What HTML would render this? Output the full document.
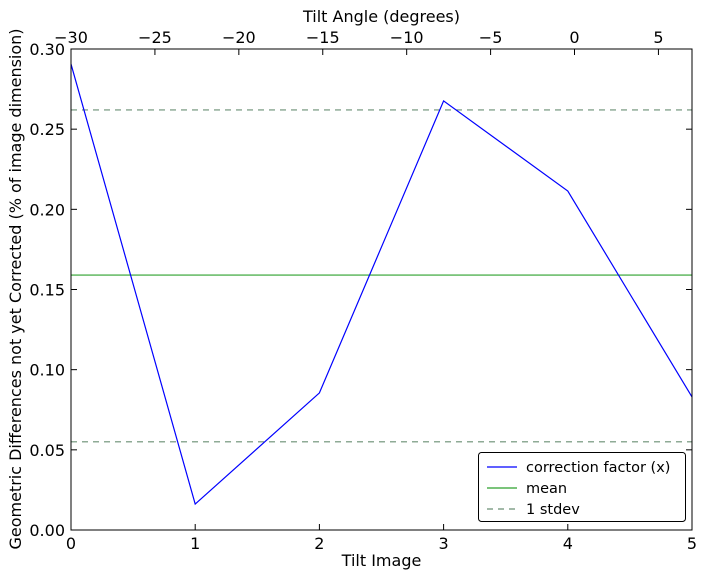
<!DOCTYPE html>
<html><head><meta charset="utf-8"><style>
body{margin:0;background:#fff;}
svg text{font-family:"DejaVu Sans","Liberation Sans",sans-serif;}
</style></head><body>
<svg id="chart" width="706" height="579" viewBox="0 0 706 579">
<g id="plot"></g>
</svg>
<script>
const xCats=[0,1,2,3,4,5];
const correction=[0.2906,0.0162,0.0855,0.2676,0.2114,0.083];
const meanVal=[0.159];
const stdevVals=[0.262,0.055];
const yTicks=[0,0.05,0.10,0.15,0.20,0.25,0.30];
const yTickLabels=["0.00","0.05","0.10","0.15","0.20","0.25","0.30"];
const topTicks=[-30,-25,-20,-15,-10,-5,0,5];
const topTickLabels=["\u221230","\u221225","\u221220","\u221215","\u221210","\u22125","0","5"];

const L=71,R=692,T=49,B=530;
const xs=v=>L+(v-0)/(5-0)*(R-L);
const ys=v=>B-(v/0.30)*(B-T);
const xt=v=>L+(v+30)/37*(R-L);
const NS="http://www.w3.org/2000/svg";
const g=document.getElementById('plot');
function mk(tag,attrs,parent){const e=document.createElementNS(NS,tag);for(const k in attrs)e.setAttribute(k,attrs[k]);(parent||g).appendChild(e);return e;}
function txt(s,attrs){const e=mk('text',attrs);e.textContent=s;return e;}

let e;
stdevVals.forEach((v,i)=>{
 e=mk('line',{x1:L,x2:R,y1:ys(v),y2:ys(v),stroke:'#6a8f74','stroke-width':1.2,'stroke-dasharray':'6,5'});
 
 
});
e=mk('line',{x1:L,x2:R,y1:ys(meanVal[0]),y2:ys(meanVal[0]),stroke:'#2ca02c','stroke-width':1.2});


e=mk('polyline',{points:correction.map((v,i)=>xs(xCats[i])+','+ys(v)).join(' '),fill:'none',stroke:'#0000ff','stroke-width':1.2});



e=mk('rect',{x:L,y:T,width:R-L,height:B-T,fill:'none',stroke:'#000','stroke-width':1});



xCats.forEach(v=>{
 const x=xs(v);
 mk('line',{x1:x,x2:x,y1:B,y2:B-6,stroke:'#000'});
 e=txt(String(v),{x:x,y:B+19,'text-anchor':'middle','font-size':16});
 
 
});
topTicks.forEach((v,i)=>{
 const x=xt(v);
 mk('line',{x1:x,x2:x,y1:T,y2:T+6,stroke:'#000'});
 e=txt(topTickLabels[i],{x:x,y:T-6,'text-anchor':'middle','font-size':16});
 
 
});
yTicks.forEach((v,i)=>{
 const y=ys(v);
 mk('line',{x1:L,x2:L+6,y1:y,y2:y,stroke:'#000'});
 mk('line',{x1:R,x2:R-6,y1:y,y2:y,stroke:'#000'});
 e=txt(yTickLabels[i],{x:L-6,y:y+6,'text-anchor':'end','font-size':16});
 
 
});
e=txt('Tilt Image',{x:(L+R)/2,y:566,'text-anchor':'middle','font-size':16});


e=txt('Tilt Angle (degrees)',{x:(L+R)/2,y:22,'text-anchor':'middle','font-size':16});


e=txt('Geometric Differences not yet Corrected (% of image dimension)',{x:0,y:0,'text-anchor':'middle','font-size':16,transform:'translate(21,289) rotate(-90)'});



const lg=mk('g',{});


mk('rect',{x:478.5,y:452.5,width:207,height:69,fill:'#fff',stroke:'#000',rx:3},lg);
const items=[['correction factor (x)','#0000ff',''],['mean','#2ca02c',''],['1 stdev','#6a8f74','6,5']];
items.forEach((it,i)=>{
 const y=467+i*21;
 mk('line',{x1:487,x2:517,y1:y,y2:y,stroke:it[1],'stroke-width':1.2,'stroke-dasharray':it[2]||'none'},lg);
 const t=mk('text',{x:526,y:y+5,'font-size':14.5},lg);t.textContent=it[0];
 
 
});
</script>
</body></html>
